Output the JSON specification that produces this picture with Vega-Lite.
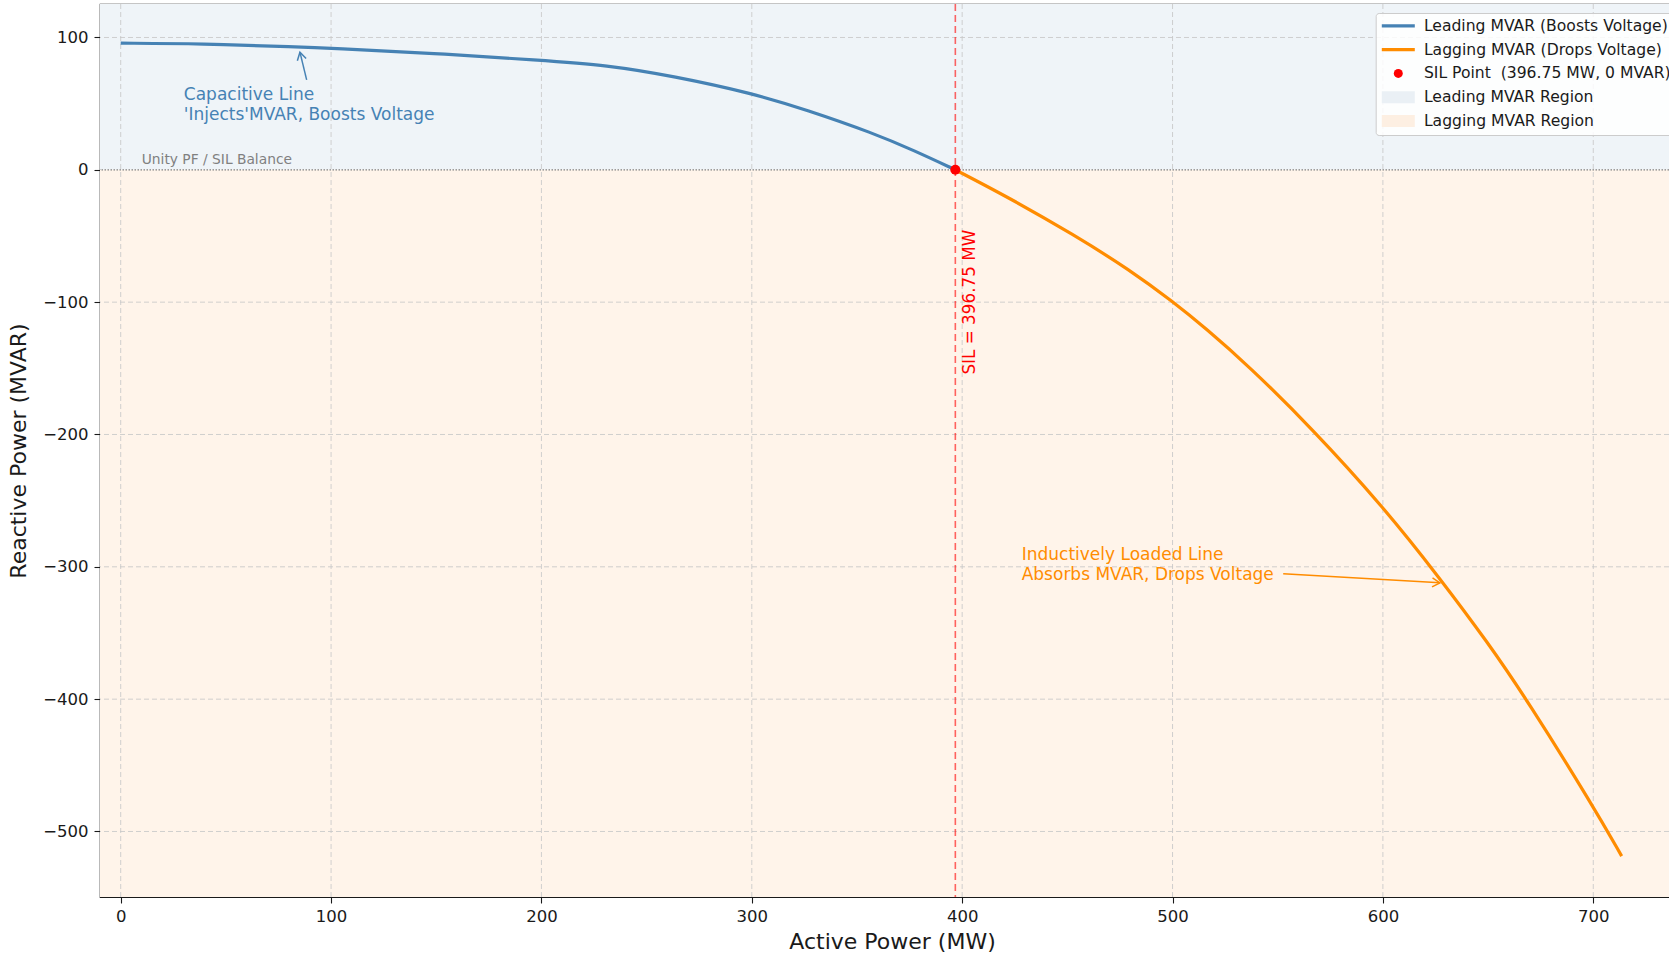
{
  "$schema": "https://vega.github.io/schema/vega-lite/v6.json",
  "width": 1569,
  "height": 893,
  "autosize": "none",
  "padding": {"left": 100, "top": 4, "right": 0, "bottom": 58},
  "background": "white",
  "config": {
    "font": "DejaVu Sans",
    "view": {"stroke": "#1a1a1a", "strokeWidth": 1.2},
    "axis": {
      "domain": false,
      "grid": false,
      "tickColor": "#1a1a1a",
      "tickSize": 6,
      "tickWidth": 1.1,
      "labelColor": "#1a1a1a",
      "labelFontSize": 16.5,
      "titleColor": "#1a1a1a",
      "titleFontSize": 22,
      "titleFontWeight": "normal"
    }
  },
  "datasets": {
    "curve": [
      {"series": "Leading MVAR (Boosts Voltage)", "P": 0, "Q": 95.7},
      {"series": "Leading MVAR (Boosts Voltage)", "P": 38, "Q": 95.3},
      {"series": "Leading MVAR (Boosts Voltage)", "P": 85, "Q": 92.8},
      {"series": "Leading MVAR (Boosts Voltage)", "P": 100, "Q": 91.9},
      {"series": "Leading MVAR (Boosts Voltage)", "P": 148.6, "Q": 88.1},
      {"series": "Leading MVAR (Boosts Voltage)", "P": 199.3, "Q": 82.8},
      {"series": "Leading MVAR (Boosts Voltage)", "P": 231.1, "Q": 79.2},
      {"series": "Leading MVAR (Boosts Voltage)", "P": 262.8, "Q": 70.8},
      {"series": "Leading MVAR (Boosts Voltage)", "P": 300.1, "Q": 57.9},
      {"series": "Leading MVAR (Boosts Voltage)", "P": 326.1, "Q": 45.3},
      {"series": "Leading MVAR (Boosts Voltage)", "P": 357.8, "Q": 27.7},
      {"series": "Leading MVAR (Boosts Voltage)", "P": 376.8, "Q": 14.8},
      {"series": "Leading MVAR (Boosts Voltage)", "P": 396.75, "Q": 0},
      {"series": "Lagging MVAR (Drops Voltage)", "P": 396.75, "Q": 0},
      {"series": "Lagging MVAR (Drops Voltage)", "P": 421, "Q": -20},
      {"series": "Lagging MVAR (Drops Voltage)", "P": 453, "Q": -49},
      {"series": "Lagging MVAR (Drops Voltage)", "P": 480, "Q": -76},
      {"series": "Lagging MVAR (Drops Voltage)", "P": 500, "Q": -99.5},
      {"series": "Lagging MVAR (Drops Voltage)", "P": 516, "Q": -120},
      {"series": "Lagging MVAR (Drops Voltage)", "P": 536, "Q": -148},
      {"series": "Lagging MVAR (Drops Voltage)", "P": 566, "Q": -195},
      {"series": "Lagging MVAR (Drops Voltage)", "P": 600, "Q": -254.3},
      {"series": "Lagging MVAR (Drops Voltage)", "P": 627, "Q": -308.5},
      {"series": "Lagging MVAR (Drops Voltage)", "P": 650, "Q": -357.5},
      {"series": "Lagging MVAR (Drops Voltage)", "P": 668.4, "Q": -400.3},
      {"series": "Lagging MVAR (Drops Voltage)", "P": 700, "Q": -481},
      {"series": "Lagging MVAR (Drops Voltage)", "P": 713.5, "Q": -518.6}
    ],
    "regions": [
      {"region": "Leading MVAR Region", "lo": 0, "hi": 125.3},
      {"region": "Lagging MVAR Region", "lo": -549.5, "hi": 0}
    ],
    "gridx": [{"P": 0}, {"P": 100}, {"P": 200}, {"P": 300}, {"P": 400}, {"P": 500}, {"P": 600}, {"P": 700}],
    "gridy": [{"Q": -500}, {"Q": -400}, {"Q": -300}, {"Q": -200}, {"Q": -100}, {"Q": 100}],
    "sil": [
      {"series": "SIL Point\u00a0 (396.75 MW, 0 MVAR)", "P": 396.75, "Q": 0, "label": "SIL = 396.75 MW", "labelP": 403.5, "labelQ": -100}
    ],
    "notes": [
      {"kind": "cap", "text": ["Capacitive Line", "'Injects'MVAR, Boosts Voltage"], "P": 30, "Q": 56.4, "P0": 88.4, "Q0": 68, "P1": 85.2, "Q1": 88.9, "angle": 346.4},
      {"kind": "ind", "text": ["Inductively Loaded Line", "Absorbs MVAR, Drops Voltage"], "P": 428.3, "Q": -291.4, "P0": 552.6, "Q0": -305.3, "P1": 627.1, "Q1": -312.1, "angle": 93.3}
    ],
    "unity": [
      {"P": 10, "Q": 4.5, "text": "Unity PF / SIL Balance"}
    ]
  },
  "layer": [
    {
      "data": {"name": "regions"},
      "mark": {"type": "rect"},
      "encoding": {
        "y": {"field": "lo", "type": "quantitative", "scale": {"domain": [-549.5, 125.3], "nice": false, "zero": false}},
        "y2": {"field": "hi"},
        "color": {"condition": {"test": "datum.region == 'Leading MVAR Region'", "value": "#eff4f8"}, "value": "#fff4ea"}
      }
    },
    {
      "data": {"name": "gridx"},
      "mark": {"type": "rule", "color": "#c8c8c8", "strokeWidth": 1, "strokeDash": [5, 3], "opacity": 0.85},
      "encoding": {"x": {"field": "P", "type": "quantitative"}}
    },
    {
      "data": {"name": "gridy"},
      "mark": {"type": "rule", "color": "#c8c8c8", "strokeWidth": 1, "strokeDash": [5, 3], "opacity": 0.85},
      "encoding": {"y": {"field": "Q", "type": "quantitative"}}
    },
    {
      "data": {"values": [{"Q": 0}]},
      "mark": {"type": "rule", "color": "#808080", "strokeWidth": 1.2, "strokeDash": [1.5, 1.5]},
      "encoding": {"y": {"field": "Q", "type": "quantitative"}}
    },
    {
      "data": {"name": "sil"},
      "mark": {"type": "rule", "color": "red", "opacity": 0.6, "strokeWidth": 1.6, "strokeDash": [7, 4]},
      "encoding": {"x": {"field": "P", "type": "quantitative"}}
    },
    {
      "data": {"name": "curve"},
      "mark": {"type": "line", "strokeWidth": 3.2, "interpolate": "basis"},
      "encoding": {
        "x": {
          "field": "P", "type": "quantitative",
          "scale": {"domain": [-9.84, 736], "nice": false, "zero": false},
          "axis": {"values": [0, 100, 200, 300, 400, 500, 600, 700], "title": "Active Power (MW)", "labelPadding": 5, "titleX": 792, "titleY": 51, "titleBaseline": "alphabetic", "titleAlign": "center"}
        },
        "y": {
          "field": "Q", "type": "quantitative",
          "axis": {"values": [-500, -400, -300, -200, -100, 0, 100], "title": "Reactive Power (MVAR)", "labelPadding": 6, "labelExpr": "replace(datum.label, '-', '\u2212')", "titlePadding": 12}
        },
        "color": {
          "field": "series", "type": "nominal",
          "scale": {
            "domain": ["Leading MVAR (Boosts Voltage)", "Lagging MVAR (Drops Voltage)", "SIL Point\u00a0 (396.75 MW, 0 MVAR)", "Leading MVAR Region", "Lagging MVAR Region"],
            "range": ["#4682b4", "#ff8c00", "#ff0000", "#eaf0f5", "#fdefe2"]
          },
          "legend": {
            "title": null,
            "orient": "none",
            "legendX": 1275.7,
            "legendY": 9,
            "padding": 5,
            "fillColor": "rgba(255,255,255,0.85)",
            "strokeColor": "#cccccc",
            "cornerRadius": 3,
            "symbolSize": 225,
            "symbolOffset": 9.8,
            "labelOffset": 17.8,
            "rowPadding": 6.8,
            "labelFontSize": 15.6,
            "labelColor": "#1a1a1a",
            "labelLimit": 500,
            "encode": {
              "symbols": {
                "update": {
                  "shape": {"signal": "indexof(['Leading MVAR (Boosts Voltage)','Lagging MVAR (Drops Voltage)'], datum.value) >= 0 ? 'M-2.2,0H2.2' : (indexof(['Leading MVAR Region','Lagging MVAR Region'], datum.value) >= 0 ? 'M-2.2,-0.8H2.2V0.8H-2.2Z' : 'circle')"},
                  "size": {"signal": "indexof(['Leading MVAR (Boosts Voltage)','Lagging MVAR (Drops Voltage)','Leading MVAR Region','Lagging MVAR Region'], datum.value) >= 0 ? 225 : 81"},
                  "fill": {"scale": "color", "field": "value"},
                  "stroke": {"scale": "color", "field": "value"},
                  "strokeWidth": {"signal": "indexof(['Leading MVAR (Boosts Voltage)','Lagging MVAR (Drops Voltage)'], datum.value) >= 0 ? 3.2 : 0"},
                  "opacity": {"value": 1}
                }
              }
            }
          }
        }
      }
    },
    {
      "data": {"name": "sil"},
      "mark": {"type": "point", "filled": true, "size": 100, "opacity": 1, "color": "red"},
      "encoding": {
        "x": {"field": "P", "type": "quantitative"},
        "y": {"field": "Q", "type": "quantitative"}
      }
    },
    {
      "data": {"name": "sil"},
      "mark": {"type": "text", "color": "red", "angle": 270, "fontSize": 16.8, "align": "center", "baseline": "middle"},
      "encoding": {
        "x": {"field": "labelP", "type": "quantitative"},
        "y": {"field": "labelQ", "type": "quantitative"},
        "text": {"field": "label"}
      }
    },
    {
      "data": {"name": "unity"},
      "mark": {"type": "text", "color": "#808080", "fontSize": 13.8, "align": "left", "baseline": "alphabetic"},
      "encoding": {
        "x": {"field": "P", "type": "quantitative"},
        "y": {"field": "Q", "type": "quantitative"},
        "text": {"field": "text"}
      }
    },
    {
      "data": {"name": "notes"},
      "mark": {"type": "rule", "strokeWidth": 1.5},
      "encoding": {
        "x": {"field": "P0", "type": "quantitative"},
        "y": {"field": "Q0", "type": "quantitative"},
        "x2": {"field": "P1"},
        "y2": {"field": "Q1"},
        "color": {"condition": {"test": "datum.kind == 'cap'", "value": "#4682b4"}, "value": "#ff8c00"}
      }
    },
    {
      "data": {"name": "notes"},
      "mark": {"type": "point", "shape": "M-0.5,0.85L0,0L0.5,0.85", "filled": false, "size": 324, "strokeWidth": 1.5, "opacity": 1},
      "encoding": {
        "x": {"field": "P1", "type": "quantitative"},
        "y": {"field": "Q1", "type": "quantitative"},
        "angle": {"field": "angle", "type": "quantitative", "scale": null},
        "stroke": {"condition": {"test": "datum.kind == 'cap'", "value": "#4682b4"}, "value": "#ff8c00"}
      }
    },
    {
      "data": {"name": "notes"},
      "mark": {"type": "text", "fontSize": 17, "lineHeight": 20, "align": "left", "baseline": "middle"},
      "encoding": {
        "x": {"field": "P", "type": "quantitative"},
        "y": {"field": "Q", "type": "quantitative"},
        "text": {"field": "text"},
        "color": {"condition": {"test": "datum.kind == 'cap'", "value": "#4682b4"}, "value": "#ff8c00"}
      }
    }
  ]
}
